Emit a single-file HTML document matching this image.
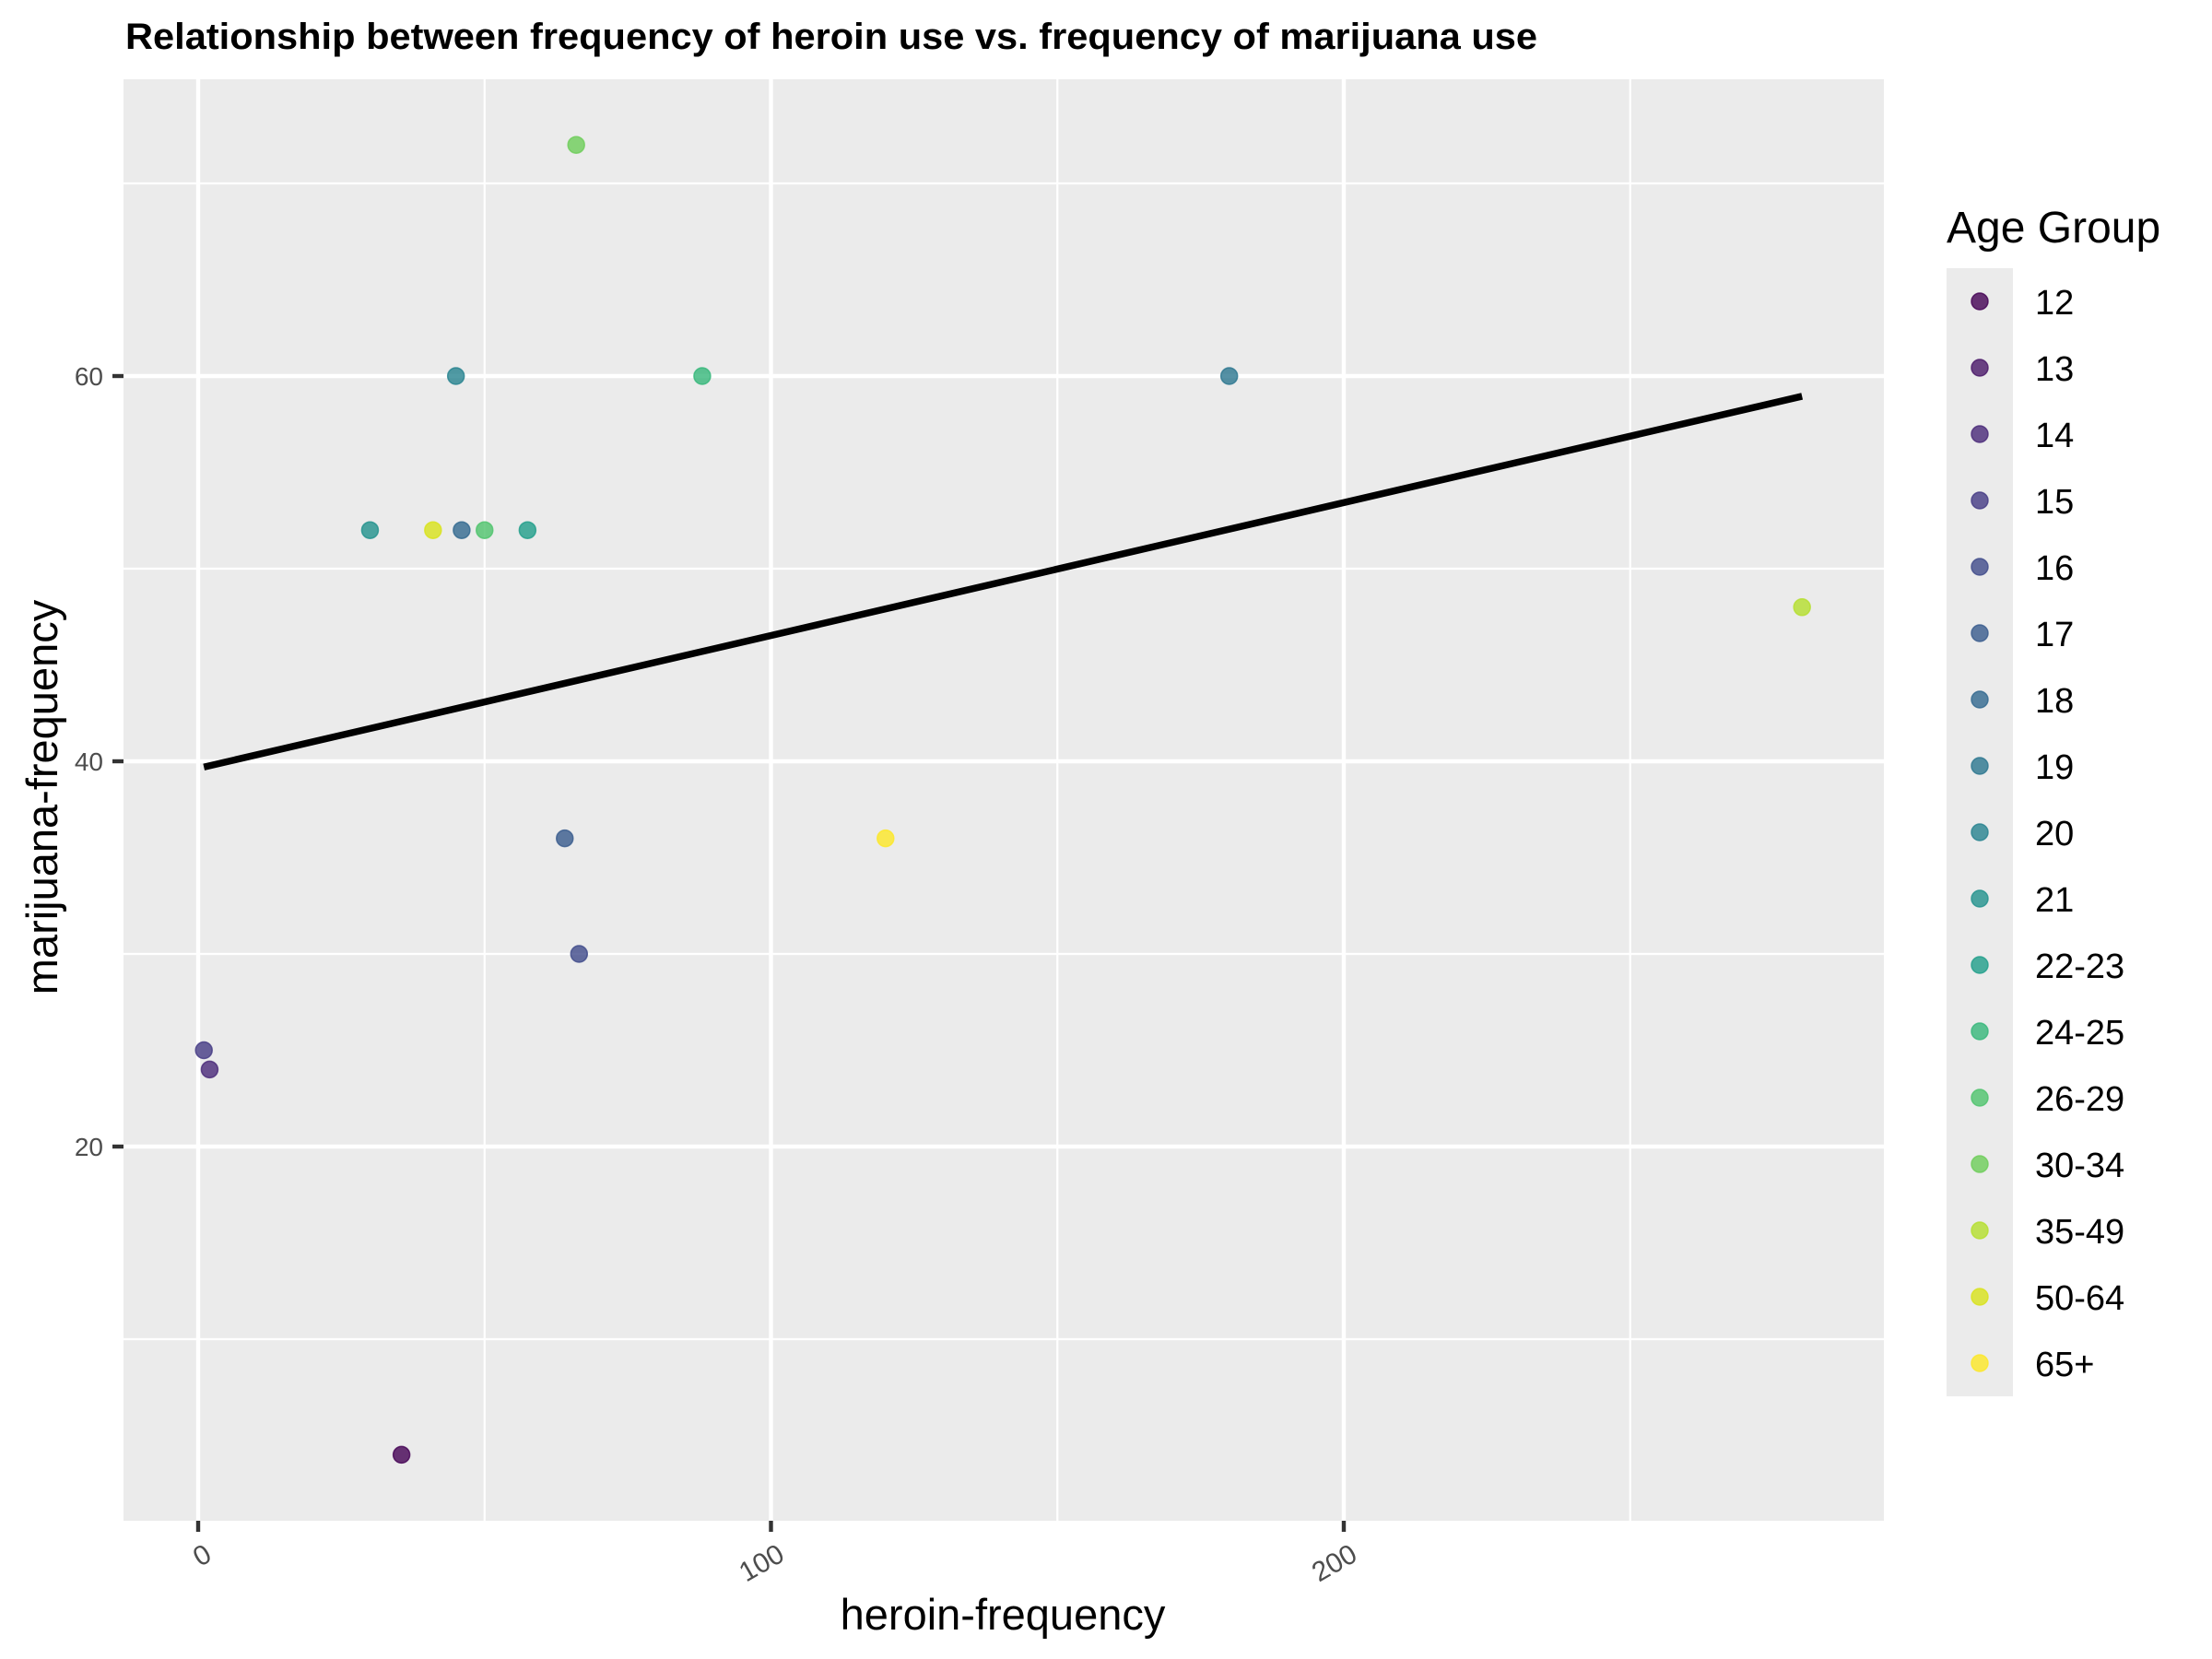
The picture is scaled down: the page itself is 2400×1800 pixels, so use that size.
<!DOCTYPE html>
<html>
<head>
<meta charset="utf-8">
<style>
  html,body{margin:0;padding:0;background:#fff;}
  svg{display:block;font-family:"Liberation Sans",sans-serif;}
</style>
</head>
<body>
<svg id="chart" width="2400" height="1800" viewBox="0 0 2400 1800">
  <rect width="2400" height="1800" fill="#ffffff"/>
  <text x="136" y="53" font-size="40" font-weight="bold" fill="#000" textLength="1532" lengthAdjust="spacingAndGlyphs">Relationship between frequency of heroin use vs. frequency of marijuana use</text>
  <rect x="134" y="86" width="1910" height="1564" fill="#ebebeb"/>
  <g id="grid"></g>
  <g id="axes"></g>
  <g id="line"></g>
  <g id="points"></g>
  <text x="1088" y="1768" font-size="47" text-anchor="middle" fill="#000">heroin-frequency</text>
  <text transform="translate(62,865) rotate(-90)" font-size="47" text-anchor="middle" fill="#000">marijuana-frequency</text>
  <g id="legend">
    <text x="2112" y="263" font-size="48" fill="#000">Age Group</text>
    <rect x="2112" y="291" width="72" height="1224" fill="#ebebeb"/>
  </g>
</svg>
<script>
// ---- data ----
const ageGroups = ["12","13","14","15","16","17","18","19","20","21","22-23","24-25","26-29","30-34","35-49","50-64","65+"];
const heroinFreq = [35.5, null, 2, 1, 66.5, 64, 46, 180, 45, 30, 57.5, 88, 50, 66, 280, 41, 120];
const marijuanaFreq = [4, 15, 24, 25, 30, 36, 52, 60, 60, 52, 52, 60, 52, 72, 48, 52, 36];
const groupColors = ["#440154","#481668","#482878","#443983","#3e4a89","#375a8c","#31688e","#2b758e","#26828e","#21918c","#1f9e89","#35b779","#4ec36b","#6dcd59","#b4de2c","#d8e219","#fde725"];
const xMajorTicks = [0, 100, 200];
const xMinorTicks = [50, 150, 250];
const yMajorTicks = [20, 40, 60];
const yMinorTicks = [10, 30, 50, 70];

// ---- scales ----
const X0 = 215, XPER = 6.215;
const Y0 = 408, YV0 = 60, YPER = 20.9;
function sx(v){ return X0 + v * XPER; }
function sy(v){ return Y0 - (v - YV0) * YPER; }
const PL = 134, PR = 2044, PT = 86, PB = 1650;
const NS = "http://www.w3.org/2000/svg";
function mk(tag, attrs, parent){
  const e = document.createElementNS(NS, tag);
  for (const k in attrs) e.setAttribute(k, attrs[k]);
  parent.appendChild(e);
  return e;
}
const grid = document.getElementById('grid');
const axes = document.getElementById('axes');

xMinorTicks.forEach(v => {
  const l = mk('line', {x1:sx(v), x2:sx(v), y1:PT, y2:PB, stroke:'#fff', 'stroke-width':2.2}, grid);
  
  
});
yMinorTicks.forEach(v => {
  const l = mk('line', {x1:PL, x2:PR, y1:sy(v), y2:sy(v), stroke:'#fff', 'stroke-width':2.2}, grid);
  
  
});
xMajorTicks.forEach(v => {
  const l = mk('line', {x1:sx(v), x2:sx(v), y1:PT, y2:PB, stroke:'#fff', 'stroke-width':4.4}, grid);
  
  
  const t = mk('line', {x1:sx(v), x2:sx(v), y1:PB, y2:PB+12, stroke:'#333', 'stroke-width':4.4}, axes);
  
  
  const lb = mk('text', {transform:'translate(' + (sx(v)+6) + ',' + (PB+24) + ') rotate(-30)', 'font-size':30, 'text-anchor':'end', 'dominant-baseline':'hanging', fill:'#4d4d4d'}, axes);
  lb.textContent = String(v);
  
  
});
yMajorTicks.forEach(v => {
  const l = mk('line', {x1:PL, x2:PR, y1:sy(v), y2:sy(v), stroke:'#fff', 'stroke-width':4.4}, grid);
  
  
  const t = mk('line', {x1:PL-12, x2:PL, y1:sy(v), y2:sy(v), stroke:'#333', 'stroke-width':4.4}, axes);
  
  
  const lb = mk('text', {x:112, y:sy(v)+10, 'font-size':28, 'text-anchor':'end', fill:'#4d4d4d'}, axes);
  lb.textContent = String(v);
  
  
});

// ---- regression line (least squares from data) ----
const pairs = [];
heroinFreq.forEach((h, i) => { if (h !== null) pairs.push([h, marijuanaFreq[i]]); });
const n = pairs.length;
const mx = pairs.reduce((s,p)=>s+p[0],0)/n, my = pairs.reduce((s,p)=>s+p[1],0)/n;
let sxy = 0, sxx = 0;
pairs.forEach(p => { sxy += (p[0]-mx)*(p[1]-my); sxx += (p[0]-mx)*(p[0]-mx); });
const slope = sxy / sxx, icpt = my - slope * mx;
const xmin = Math.min(...pairs.map(p=>p[0])), xmax = Math.max(...pairs.map(p=>p[0]));
const rl = mk('line', {x1:sx(xmin), y1:sy(icpt+slope*xmin), x2:sx(xmax), y2:sy(icpt+slope*xmax), stroke:'#000', 'stroke-width':7.5}, document.getElementById('line'));



// ---- points ----
const pts = document.getElementById('points');
heroinFreq.forEach((h, i) => {
  if (h === null) return;
  const c = mk('circle', {cx:sx(h), cy:sy(marijuanaFreq[i]), r:9, fill:groupColors[i], 'fill-opacity':0.8, stroke:groupColors[i], 'stroke-opacity':0.8, 'stroke-width':1.5}, pts);
  
  
});

// ---- legend ----
const lg = document.getElementById('legend');
ageGroups.forEach((g, i) => {
  const cy = 327 + i * 72;
  const k = mk('circle', {cx:2148, cy:cy, r:9, fill:groupColors[i], 'fill-opacity':0.8, stroke:groupColors[i], 'stroke-opacity':0.8, 'stroke-width':1.5}, lg);
  
  
  const t = mk('text', {x:2208, y:cy+14, 'font-size':38, fill:'#000'}, lg);
  t.textContent = g;
  
  
});
</script>
</body>
</html>
